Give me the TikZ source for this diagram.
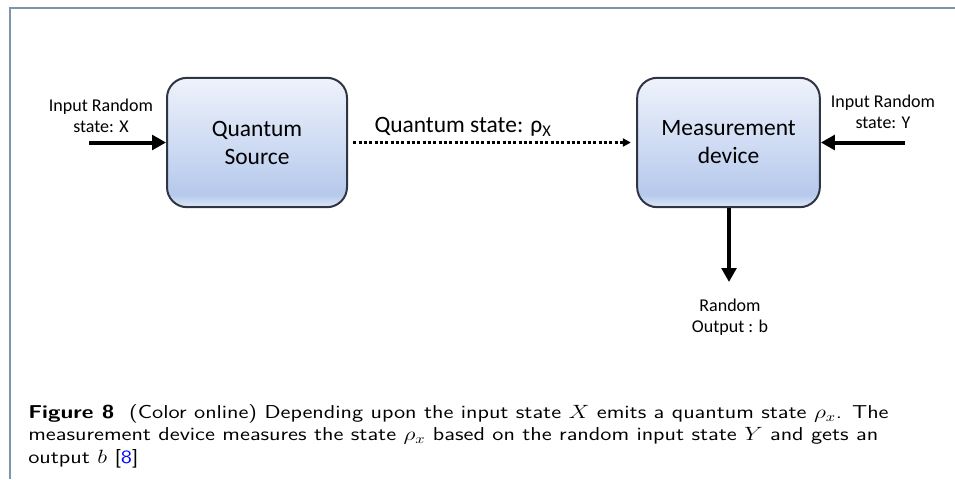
\documentclass[tikz,border=0pt]{standalone}
\usepackage{fontspec}
\usepackage{xcolor}
\usepackage{amsmath}
\usetikzlibrary{positioning}
\usetikzlibrary{shapes,arrows,calc,arrows.meta}
\newfontfamily\diagfont{Carlito}

\definecolor{framecol}{HTML}{7F93AD}
\definecolor{boxline}{HTML}{2F3542}
\definecolor{boxtop}{HTML}{EEF2FB}
\definecolor{boxmid}{HTML}{D2DEF4}
\definecolor{boxbot}{HTML}{B6C9EC}
\definecolor{boxrim}{HTML}{DDE7F7}
\definecolor{citecol}{HTML}{0000FF}

% glossy fill of the two blocks
\pgfdeclareverticalshading{blockshade}{100bp}{color(0bp)=(boxrim); color(25bp)=(boxrim);
  color(30bp)=(boxbot); color(52bp)=(boxmid); color(75bp)=(boxtop); color(100bp)=(boxtop)}

\tikzset{
  block/.style={draw=boxline, line width=1.5pt, rounded corners=15pt,
    minimum width=135pt, minimum height=97pt, inner sep=0pt, shading=blockshade,
    align=center, font=\diagfont\fontsize{17.6}{21}\selectfont},
  smalllabel/.style={align=center, inner sep=0pt, font=\diagfont\fontsize{13.5}{16}\selectfont},
  bigarrow/.style={line width=3pt, -{Triangle[length=10.5pt,width=11pt]}},
  dotarrow/.style={line width=2.2pt, dash pattern=on 2.2pt off 1.8pt,
    -{Triangle[length=6pt,width=6pt]}, shorten <=4pt, shorten >=4pt}
}

\begin{document}
\begin{tikzpicture}[x=0.75pt,y=-0.75pt]
    \useasboundingbox (0,0) rectangle (955,479);
    \draw[framecol, line width=1.2pt] (10,479) -- (10,8) -- (955,8); % figure frame

    % the two blocks
    \node[block] (src) at (257,142.5) {Quantum\\Source};
    \node[block, minimum width=137pt] (meas) at (728.5,142.5) {Measurement\\device};

    % free ends of the arrows
    \coordinate (inx) at (89,142.5);
    \coordinate (iny) at (905,142.5);
    \coordinate (outb) at (729,282);

    \draw[bigarrow] (inx) -- (src);
    \draw[bigarrow] (iny) -- (meas);
    \draw[bigarrow] (meas.south -| outb) -- (outb);
    \draw[dotarrow] (src) -- (meas);

    % labels
    \node[smalllabel] (inxlabel) at (101,116) {Input Random\\state: X};
    \node[smalllabel] (inylabel) at (883,112) {Input Random\\state: Y};
    \node[smalllabel] (outlabel) at (730,317) {Random\\Output : b};
    \node[inner sep=0pt, font=\diagfont\fontsize{17.6}{21}\selectfont] (statelabel) at (463,127)
        {Quantum state: ρ\textsubscript{X}};

    % caption
    \node[anchor=north west, align=left, inner sep=0pt, xscale=1.22, transform shape,
          font=\sffamily\fontsize{14}{16.9}\selectfont] (caption) at (28,404)
        {\textbf{Figure 8}\ \ (Color online) Depending upon the input state $X$ emits a quantum state $\rho_x$. The\\
         measurement device measures the state $\rho_x$ based on the random input state $Y$ and gets an\\
         output $b$ [\textcolor{citecol}{8}]};
\end{tikzpicture}
\end{document}
